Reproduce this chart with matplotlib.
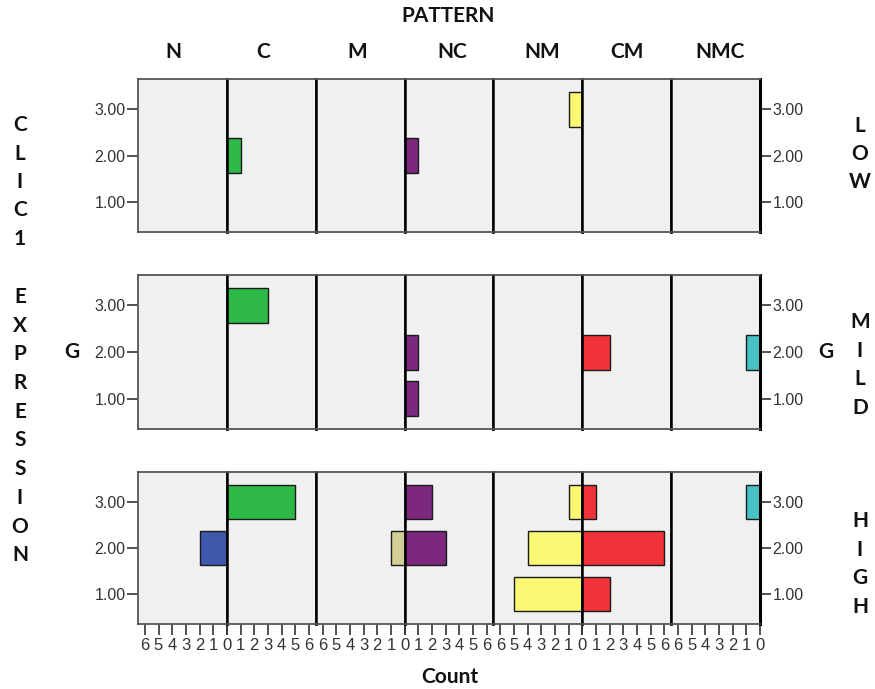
import matplotlib
matplotlib.use('Agg')
import matplotlib.pyplot as plt

# ---------------- data ----------------
patterns = ['N', 'C', 'M', 'NC', 'NM', 'CM', 'NMC']
directions = [-1, 1, -1, 1, -1, 1, -1]      # -1 = bars grow to the left
levels = ['LOW', 'MILD', 'HIGH']
groups = [1.0, 2.0, 3.0]
ytick_labels = ['1.00', '2.00', '3.00']
colors = ['#3E58AC', '#2EB848', '#D3CE97', '#7C287D', '#FBF873', '#EF3338', '#48C2C5']

# counts per pattern at G = 1.00, 2.00, 3.00
counts_low = {'N': [0, 0, 0], 'C': [0, 1, 0], 'M': [0, 0, 0], 'NC': [0, 1, 0],
              'NM': [0, 0, 1], 'CM': [0, 0, 0], 'NMC': [0, 0, 0]}
counts_mild = {'N': [0, 0, 0], 'C': [0, 0, 3], 'M': [0, 0, 0], 'NC': [1, 1, 0],
               'NM': [0, 0, 0], 'CM': [0, 2, 0], 'NMC': [0, 1, 0]}
counts_high = {'N': [0, 2, 0], 'C': [0, 0, 5], 'M': [0, 1, 0], 'NC': [0, 3, 2],
               'NM': [5, 4, 1], 'CM': [2, 6, 1], 'NMC': [0, 0, 1]}
counts = [counts_low, counts_mild, counts_high]
xticks = [0, 1, 2, 3, 4, 5, 6]

left_title = 'CLIC1 EXPRESSION'
top_title = 'PATTERN'
x_title = 'Count'
row_var = 'G'

# ---------------- layout ----------------
W, H = 875, 689
fig = plt.figure(figsize=(W / 100, H / 100), dpi=100)
fig.patch.set_facecolor('white')

TITLE_FONT = 'Lato'
TICK_FONT = 'Liberation Sans'

px_left, px_right = 138, 760
rows_px = [(79, 232), (275, 429), (472, 624)]
colw = (px_right - px_left) / 7

for r, (ytop, ybot) in enumerate(rows_px):
    for c, pat in enumerate(patterns):
        x0 = px_left + c * colw
        ax = fig.add_axes([x0 / W, 1 - ybot / H, colw / W, (ybot - ytop) / H])
        ax.set_facecolor('#F0F0F0')
        d = directions[c]
        ax.set_xlim((0, 6.5) if d == 1 else (6.5, 0))
        ax.set_ylim(0.35, 3.65)
        vals = counts[r][pat]
        gy = [g for g, v in zip(groups, vals) if v > 0]
        gv = [v for v in vals if v > 0]
        if gv:
            ax.barh(gy, gv, height=0.75, color=colors[c], edgecolor='#1a1a1a',
                    linewidth=1.0, zorder=2)
        # spines
        for s in ('top', 'bottom'):
            ax.spines[s].set_color('#555555')
            ax.spines[s].set_linewidth(1.3)
        ax.spines['left'].set_color('#555555' if c == 0 else 'black')
        ax.spines['left'].set_linewidth(1.3 if c == 0 else 1.8)
        ax.spines['right'].set_color('black')
        ax.spines['right'].set_linewidth(1.8 if c < 6 else 2.2)
        for s in ax.spines.values():
            s.set_zorder(3)

        # y ticks
        if c == 0:
            ax.set_yticks(groups)
            ax.set_yticklabels(ytick_labels)
            ax.tick_params(axis='y', left=True, right=False, labelleft=True,
                           length=8, width=1.2, color='#333333', pad=1,
                           labelsize=11.5, labelcolor='#333333')
        elif c == 6:
            ax.set_yticks(groups)
            ax.set_yticklabels(ytick_labels)
            ax.tick_params(axis='y', left=False, right=True, labelleft=False,
                           labelright=True, length=8, width=1.2, color='#333333',
                           pad=1, labelsize=11.5, labelcolor='#333333')
        else:
            ax.set_yticks([])
        for lab in ax.get_yticklabels():
            lab.set_fontfamily(TICK_FONT)

        # x ticks
        if r == 2:
            ax.set_xticks(xticks)
            labs = [str(t) for t in xticks]
            if d == 1:
                labs[0] = ''
            ax.set_xticklabels(labs)
            ax.tick_params(axis='x', length=8, width=1.2, color='#333333', pad=2,
                           labelsize=12, labelcolor='#333333')
            for lab in ax.get_xticklabels():
                lab.set_fontfamily(TICK_FONT)
        else:
            ax.set_xticks([])


def ftext(x, y, s, **kw):
    fig.text(x / W, 1 - y / H, s, ha='center', va='center',
             fontfamily=TITLE_FONT, fontweight='bold', fontsize=15,
             color='#111111', **kw)


ftext(448, 16, top_title)
col_label_x = [173, 263, 357, 452, 542, 627, 720]
for xx, p in zip(col_label_x, patterns):
    ftext(xx, 52, p)
ftext(450, 677, x_title)

# left vertical stacked title
part1, part2 = left_title.split(' ')
for i, ch in enumerate(part1):
    ftext(20, 125 + i * 28.5, ch)
for i, ch in enumerate(part2):
    ftext(20, 297 + i * 28.7, ch)

ftext(72, 352, row_var)
ftext(826, 352, row_var)

right_centers = [154, 365, 564]
for lev, yc in zip(levels, right_centers):
    n = len(lev)
    for i, ch in enumerate(lev):
        ftext(860, yc + (i - (n - 1) / 2) * 28.5, ch)

fig.savefig('out.png', dpi=100, facecolor='white')
